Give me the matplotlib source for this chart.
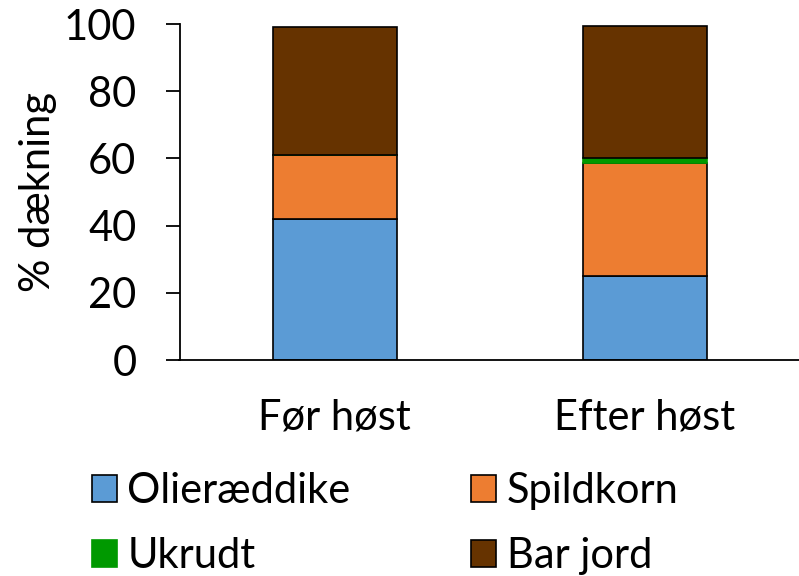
import numpy as np
import matplotlib.pyplot as plt

# Data
categories = ["Før høst", "Efter høst"]
olieraeddike = [42, 25]
spildkorn = [19, 33.5]
ukrudt = [0, 1.5]
bar_jord = [38, 39.5]

plt.rcParams['font.family'] = ['Lato', 'DejaVu Sans']
fs = 30

fig = plt.figure(figsize=(7.99, 5.76), dpi=100)
ax = fig.add_axes([179.5 / 799, 1 - 360 / 576, 620 / 799, 336 / 576])

x = np.arange(len(categories))
w = 0.4
bottom = np.zeros(len(categories))
series = [
    ("Olieræddike", olieraeddike, "#5B9BD5", "black"),
    ("Spildkorn", spildkorn, "#ED7D31", "black"),
    ("Ukrudt", ukrudt, "#009900", "#009900"),
    ("Bar jord", bar_jord, "#663300", "black"),
]
handles = {}
for name, vals, col, ec in series:
    b = ax.bar(x, vals, w, bottom=bottom, color=col, edgecolor=ec, linewidth=1.2, label=name)
    handles[name] = b
    bottom += np.array(vals)

ax.set_xlim(-0.5, 1.5)
ax.set_ylim(0, 100)
ax.set_yticks([0, 20, 40, 60, 80, 100])
ax.set_xticks(x)
ax.set_xticklabels(categories)
ax.tick_params(axis='y', labelsize=fs, length=10, width=1.3, pad=21)
ax.tick_params(axis='x', labelsize=fs, length=0, pad=28)
ax.set_ylabel("% dækning", fontsize=fs, labelpad=5)
for s in ["top", "right"]:
    ax.spines[s].set_visible(False)
ax.spines["left"].set_linewidth(1.3)
ax.spines["bottom"].set_linewidth(1.3)

order = ["Olieræddike", "Ukrudt", "Spildkorn", "Bar jord"]
fig.legend([handles[n] for n in order], order, ncol=2, loc="upper left",
           bbox_to_anchor=(92 / 799, 1 - 472 / 576), frameon=False, fontsize=fs,
           handlelength=0.6, handleheight=0.6, handletextpad=0.25,
           columnspacing=2.9, labelspacing=0.65, borderaxespad=0, borderpad=0)

fig.savefig("out.png", dpi=100)
